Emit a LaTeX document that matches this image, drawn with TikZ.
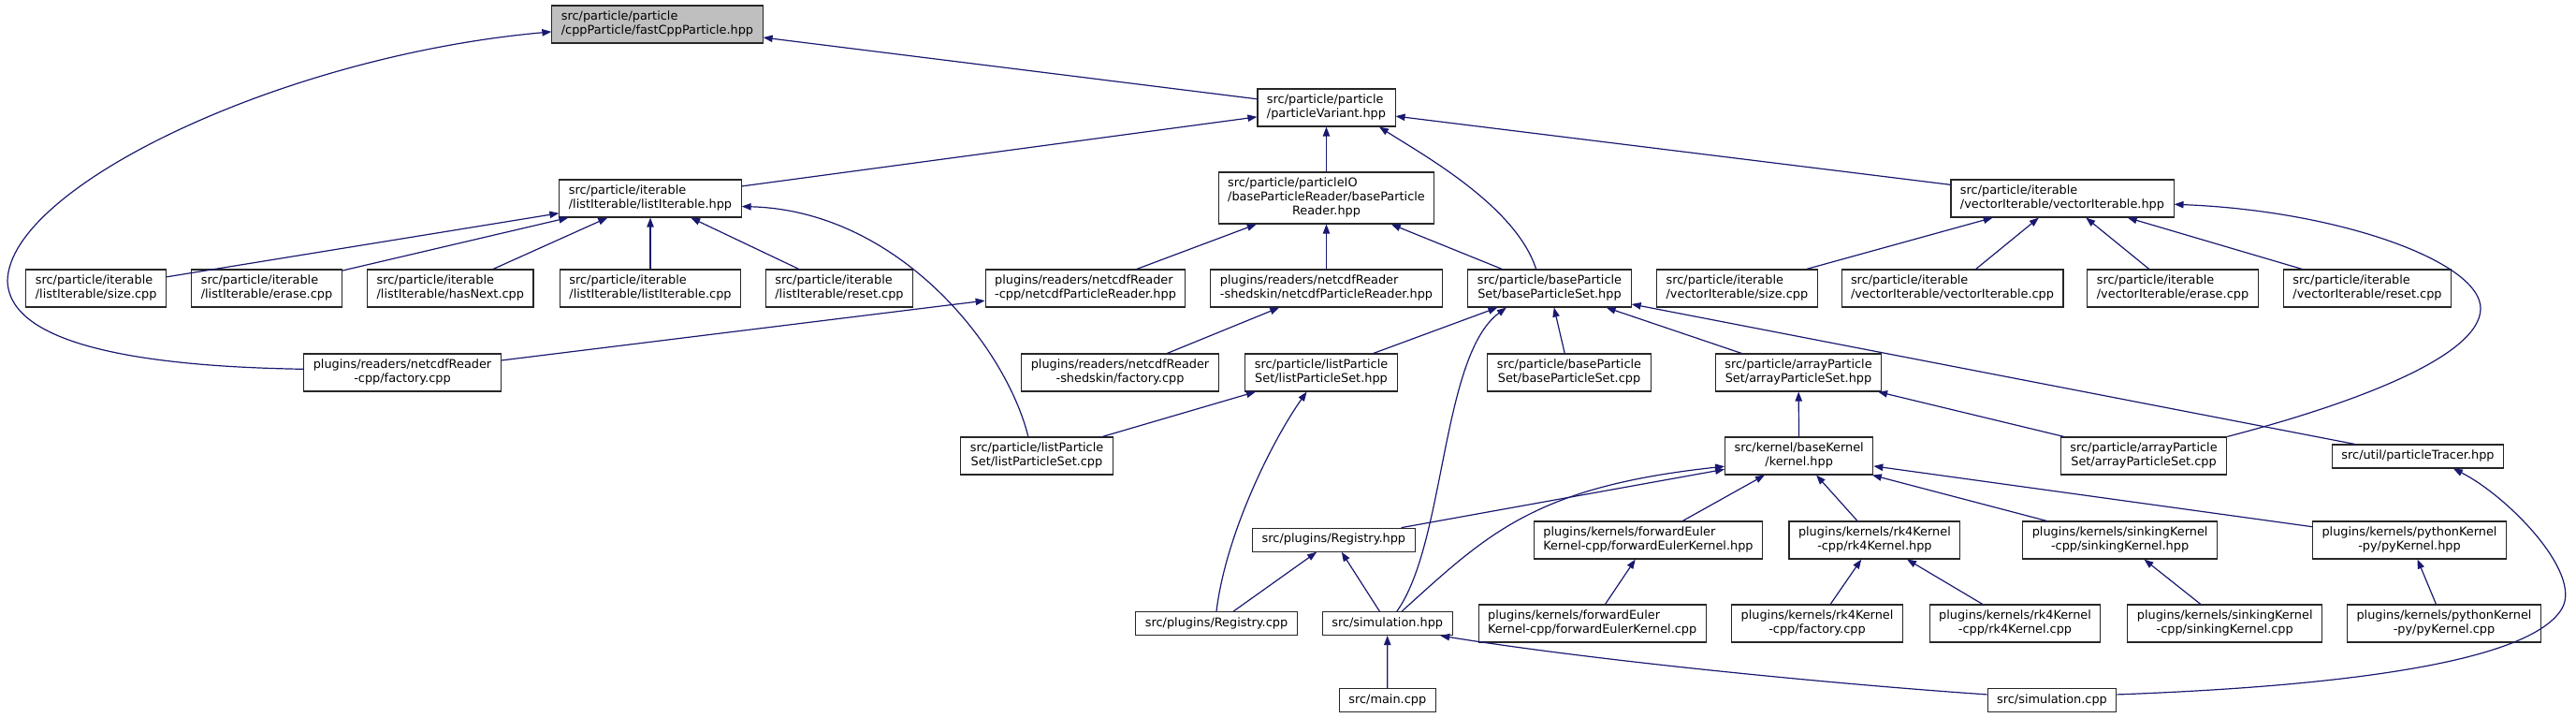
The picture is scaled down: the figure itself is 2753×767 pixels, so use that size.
\documentclass[tikz,border=0pt]{standalone}
\usepackage{fontspec}
\setmainfont{DejaVu Sans}
\usetikzlibrary{arrows.meta}
\definecolor{edgeblue}{RGB}{25,25,112}
\definecolor{rootgray}{RGB}{191,191,191}
\newcommand\lone[1]{\begin{tabular}{@{}c@{}}#1\end{tabular}}
\newcommand\ltwo[2]{\begin{tabular}{@{}l@{}}#1\\\multicolumn{1}{@{}c@{}}{#2}\end{tabular}}
\begin{document}
\begin{tikzpicture}[
  x=0.75pt, y=-0.75pt,
  box/.style={rectangle,draw=black!85,line width=0.8pt,fill=white,inner xsep=7.5pt,inner ysep=3.75pt,font=\fontsize{9.65}{11.25}\selectfont},
  arrow/.style={-{Triangle[length=7.5pt,width=5.5pt]},draw=edgeblue,line width=0.9pt}
]
\useasboundingbox (0,0) rectangle (2753,767);

\node[box,fill=rootgray] (fast) at (702.5,26) {\ltwo{src/particle/particle}{/cppParticle/fastCppParticle.hpp}};
\node[box] (pv) at (1417.5,115) {\ltwo{src/particle/particle}{/particleVariant.hpp}};

\node[box] (lih) at (695,212) {\ltwo{src/particle/iterable}{/listIterable/listIterable.hpp}};
\node[box] (bpr) at (1417.5,211.5) {\ltwo{src/particle/particleIO\\/baseParticleReader/baseParticle}{Reader.hpp}};
\node[box] (vih) at (2204,212) {\ltwo{src/particle/iterable}{/vectorIterable/vectorIterable.hpp}};

\node[box] (lisize) at (102.7,308) {\ltwo{src/particle/iterable}{/listIterable/size.cpp}};
\node[box] (lierase) at (285,308) {\ltwo{src/particle/iterable}{/listIterable/erase.cpp}};
\node[box] (lihas) at (481.3,308) {\ltwo{src/particle/iterable}{/listIterable/hasNext.cpp}};
\node[box] (licpp) at (695,308) {\ltwo{src/particle/iterable}{/listIterable/listIterable.cpp}};
\node[box] (lireset) at (897,308) {\ltwo{src/particle/iterable}{/listIterable/reset.cpp}};
\node[box] (ncrcpp) at (1160,308) {\ltwo{plugins/readers/netcdfReader}{-cpp/netcdfParticleReader.hpp}};
\node[box] (ncrshed) at (1417.5,308) {\ltwo{plugins/readers/netcdfReader}{-shedskin/netcdfParticleReader.hpp}};
\node[box] (bpsh) at (1656,308) {\ltwo{src/particle/baseParticle}{Set/baseParticleSet.hpp}};
\node[box] (visize) at (1856.4,308) {\ltwo{src/particle/iterable}{/vectorIterable/size.cpp}};
\node[box] (vicpp) at (2086.5,308) {\ltwo{src/particle/iterable}{/vectorIterable/vectorIterable.cpp}};
\node[box] (vierase) at (2322,308) {\ltwo{src/particle/iterable}{/vectorIterable/erase.cpp}};
\node[box] (vireset) at (2530,308) {\ltwo{src/particle/iterable}{/vectorIterable/reset.cpp}};

\node[box] (cppfac) at (430,398) {\ltwo{plugins/readers/netcdfReader}{-cpp/factory.cpp}};
\node[box] (shedfac) at (1197,398) {\ltwo{plugins/readers/netcdfReader}{-shedskin/factory.cpp}};
\node[box] (lpsh) at (1412,398) {\ltwo{src/particle/listParticle}{Set/listParticleSet.hpp}};
\node[box] (bpscpp) at (1677,398) {\ltwo{src/particle/baseParticle}{Set/baseParticleSet.cpp}};
\node[box] (apsh) at (1922,398) {\ltwo{src/particle/arrayParticle}{Set/arrayParticleSet.hpp}};

\node[box] (lpscpp) at (1108,487) {\ltwo{src/particle/listParticle}{Set/listParticleSet.cpp}};
\node[box] (kernel) at (1922.7,487) {\ltwo{src/kernel/baseKernel}{/kernel.hpp}};
\node[box] (apscpp) at (2291,487) {\ltwo{src/particle/arrayParticle}{Set/arrayParticleSet.cpp}};
\node[box] (tracer) at (2584,487.5) {\lone{src/util/particleTracer.hpp}};

\node[box] (reghpp) at (1425.4,576.7) {\lone{src/plugins/Registry.hpp}};
\node[box] (fehpp) at (1761.5,577) {\ltwo{plugins/kernels/forwardEuler}{Kernel-cpp/forwardEulerKernel.hpp}};
\node[box] (rk4hpp) at (2003.4,577) {\ltwo{plugins/kernels/rk4Kernel}{-cpp/rk4Kernel.hpp}};
\node[box] (sinkhpp) at (2265.6,577) {\ltwo{plugins/kernels/sinkingKernel}{-cpp/sinkingKernel.hpp}};
\node[box] (pyhpp) at (2575,577) {\ltwo{plugins/kernels/pythonKernel}{-py/pyKernel.hpp}};

\node[box] (regcpp) at (1300,666) {\lone{src/plugins/Registry.cpp}};
\node[box] (simhpp) at (1482.7,666) {\lone{src/simulation.hpp}};
\node[box] (fecpp) at (1701.7,666) {\ltwo{plugins/kernels/forwardEuler}{Kernel-cpp/forwardEulerKernel.cpp}};
\node[box] (rk4fac) at (1942,666) {\ltwo{plugins/kernels/rk4Kernel}{-cpp/factory.cpp}};
\node[box] (rk4cpp) at (2153.5,666) {\ltwo{plugins/kernels/rk4Kernel}{-cpp/rk4Kernel.cpp}};
\node[box] (sinkcpp) at (2377.7,666) {\ltwo{plugins/kernels/sinkingKernel}{-cpp/sinkingKernel.cpp}};
\node[box] (pycpp) at (2612,666) {\ltwo{plugins/kernels/pythonKernel}{-py/pyKernel.cpp}};

\node[box] (maincpp) at (1482.8,748) {\lone{src/main.cpp}};
\node[box] (simcpp) at (2193,748) {\lone{src/simulation.cpp}};

\draw[arrow] (pv) -- (fast);
\draw[arrow] (cppfac.178) .. controls (180,392) and (10,375) .. (8,300) .. controls (10,200) and (300,60) .. (fast.184);
\draw[arrow] (lih) -- (pv);
\draw[arrow] (bpr) -- (pv);
\draw[arrow] (vih) -- (pv);
\draw[arrow] (bpsh.125) .. controls (1620,220) and (1520,165) .. (pv.-20);

\draw[arrow] (lisize) -- (lih);
\draw[arrow] (lierase) -- (lih);
\draw[arrow] (lihas) -- (lih);
\draw[arrow] (licpp) -- (lih);
\draw[arrow] (lireset) -- (lih);
\draw[arrow] (lpscpp.114) .. controls (1075,370) and (960,225) .. (lih.-5);

\draw[arrow] (visize) -- (vih);
\draw[arrow] (vicpp) -- (vih);
\draw[arrow] (vierase) -- (vih);
\draw[arrow] (vireset) -- (vih);
\draw[arrow] (apscpp.north east) .. controls (2520,430) and (2650,380) .. (2651,330) .. controls (2652,280) and (2500,225) .. (vih.-3);

\draw[arrow] (ncrcpp) -- (bpr);
\draw[arrow] (ncrshed) -- (bpr);
\draw[arrow] (bpsh) -- (bpr);
\draw[arrow] (cppfac) -- (ncrcpp);
\draw[arrow] (shedfac) -- (ncrshed);

\draw[arrow] (lpsh) -- (bpsh);
\draw[arrow] (bpscpp) -- (bpsh);
\draw[arrow] (apsh) -- (bpsh);
\draw[arrow] (tracer) -- (bpsh);
\draw[arrow] (simhpp.52) .. controls (1545,580) and (1540,380) .. (bpsh.-156);

\draw[arrow] (lpscpp) -- (lpsh);
\draw[arrow] (regcpp.north) .. controls (1310,570) and (1360,470) .. (lpsh.-127);
\draw[arrow] (kernel) -- (apsh);
\draw[arrow] (apscpp) -- (apsh);

\draw[arrow] (reghpp) -- (kernel);
\draw[arrow] (simhpp.40) .. controls (1590,570) and (1640,520) .. (kernel.188);
\draw[arrow] (fehpp) -- (kernel);
\draw[arrow] (rk4hpp) -- (kernel);
\draw[arrow] (sinkhpp) -- (kernel);
\draw[arrow] (pyhpp) -- (kernel);

\draw[arrow] (regcpp) -- (reghpp);
\draw[arrow] (simhpp) -- (reghpp);
\draw[arrow] (fecpp) -- (fehpp);
\draw[arrow] (rk4fac) -- (rk4hpp);
\draw[arrow] (rk4cpp) -- (rk4hpp);
\draw[arrow] (sinkcpp) -- (sinkhpp);
\draw[arrow] (pycpp) -- (pyhpp);

\draw[arrow] (maincpp) -- (simhpp);
\draw[arrow] (simcpp.175) .. controls (1950,730) and (1700,705) .. (simhpp.-13);
\draw[arrow] (simcpp.5) .. controls (2450,735) and (2700,715) .. (2738,650) .. controls (2760,612) and (2680,530) .. (tracer.-19);
\end{tikzpicture}
\end{document}
